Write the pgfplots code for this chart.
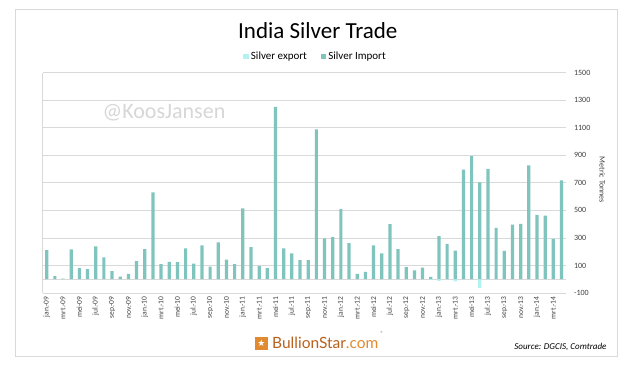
\documentclass[border=0pt]{standalone}
\usepackage{pgfplots}
\pgfplotsset{compat=1.18}
\usepackage{fontspec}
\setmainfont{Carlito}
\newfontfamily\logofont{Lato}
\newfontfamily\symfont{DejaVu Sans}
\definecolor{imp}{RGB}{128,197,189}
\definecolor{expc}{RGB}{178,242,242}
\definecolor{gridc}{RGB}{217,217,217}
\definecolor{txt}{RGB}{64,64,64}
\definecolor{logoA}{RGB}{184,98,30}
\definecolor{logoB}{RGB}{226,138,48}
\definecolor{wm}{RGB}{215,215,215}

\pgfplotstableread{
x y
0 211
1 22
2 4
3 216
4 80
5 73
6 238
7 158
8 58
9 19
10 39
11 131
12 218
13 630
14 109
15 126
16 124
17 223
18 114
19 245
20 92
21 267
22 143
23 109
24 514
25 233
26 95
27 80
28 1251
29 223
30 187
31 138
32 138
33 1088
34 296
35 305
36 509
37 262
38 39
39 53
40 245
41 187
42 400
43 218
44 87
45 65
46 85
47 17
48 312
49 256
50 208
51 795
52 894
53 703
54 800
55 372
56 205
57 396
58 401
59 827
60 467
61 462
62 292
63 718
}\importdata

\pgfplotstableread{
x y
47 -4
48 -12
50 -15
53 -63
}\exportdata

\begin{document}
\begin{tikzpicture}
\useasboundingbox (-42.6pt,-72pt) rectangle (589.4pt,293pt);
\fill[white] (-42.6pt,-72pt) rectangle (589.4pt,293pt);
\draw[gridc, line width=0.8pt] (-27.6pt,-63pt) rectangle (574.4pt,284pt);
\begin{axis}[
  at={(0pt,0pt)}, anchor=south west,
  scale only axis, width=523pt, height=220.5pt,
  xmin=-0.5, xmax=63.5, ymin=-100, ymax=1500,
  axis line style={draw=none},
  ymajorgrids, grid style={gridc, line width=0.6pt},
  ytick={-100,100,300,500,700,900,1100,1300,1500},
  yticklabels={-100,100,300,500,700,900,1100,1300,1500},
  yticklabel pos=right,
  yticklabel style={font=\fontsize{8}{9}\selectfont, text=txt, xshift=5pt},
  xtick={0,2,...,62},
  xticklabels={jan.-09,mrt.-09,mei-09,jul.-09,sep.-09,nov.-09,jan.-10,mrt.-10,mei-10,jul.-10,sep.-10,nov.-10,jan.-11,mrt.-11,mei-11,jul.-11,sep.-11,nov.-11,jan.-12,mrt.-12,mei-12,jul.-12,sep.-12,nov.-12,jan.-13,mrt.-13,mei-13,jul.-13,sep.-13,nov.-13,jan.-14,mrt.-14},
  xticklabel style={rotate=90, anchor=east, font=\fontsize{7.5}{9}\selectfont, text=txt},
  major tick length=0pt,
  legend style={at={(0.522,1.0717)}, anchor=center, draw=none, fill=none,
     legend columns=2, font=\fontsize{11}{13}\selectfont,
     /tikz/every even column/.append style={column sep=12pt}},
  clip=false,
]
\draw[gridc, line width=0.6pt] (axis cs:-0.5,0) -- (axis cs:63.5,0);
\draw[gridc, line width=0.8pt] (axis cs:-0.5,-100) -- (axis cs:-0.5,1500);
\addplot[ybar, bar width=3.2pt, bar shift=0pt, fill=expc, draw=none,
  legend image code/.code={\fill[expc] (0pt,-2.8pt) rectangle (5.5pt,2.7pt);}]
  table[x=x,y=y] {\exportdata};
\addlegendentry{Silver export}
\addplot[ybar, bar width=3.2pt, bar shift=0pt, fill=imp, draw=none,
  legend image code/.code={\fill[imp] (0pt,-2.8pt) rectangle (5.5pt,2.7pt);}]
  table[x=x,y=y] {\importdata};
\addlegendentry{Silver Import}
\end{axis}
\node[font=\fontsize{23}{27}\selectfont, text=black] at (275.2pt,262pt) {India Silver Trade};
\node[font=\fontsize{22}{26}\selectfont, text=wm] at (121.4pt,180pt) {@KoosJansen};
\node[rotate=-90, font=\fontsize{8}{9}\selectfont, text=txt] at (559.7pt,113pt) {Metric Tonnes};
\fill[logoB] (212.4pt,-57pt) rectangle (225.4pt,-44pt);
\node[font=\symfont\fontsize{9}{9}\selectfont, text=white] at (218.9pt,-50.5pt) {★};
\node[anchor=west, font=\logofont\fontsize{15.5}{18}\selectfont, inner sep=0pt] at (229.4pt,-50pt) {\textcolor{logoA}{BullionStar}\textcolor{logoB}{.com}};
\node[font=\fontsize{6}{7}\selectfont, text=gray] at (339.4pt,-40pt) {®};
\node[anchor=east, font=\itshape\fontsize{9}{11}\selectfont, text=black] at (567.4pt,-54pt) {Source: DGCIS, Comtrade};
\end{tikzpicture}
\end{document}
